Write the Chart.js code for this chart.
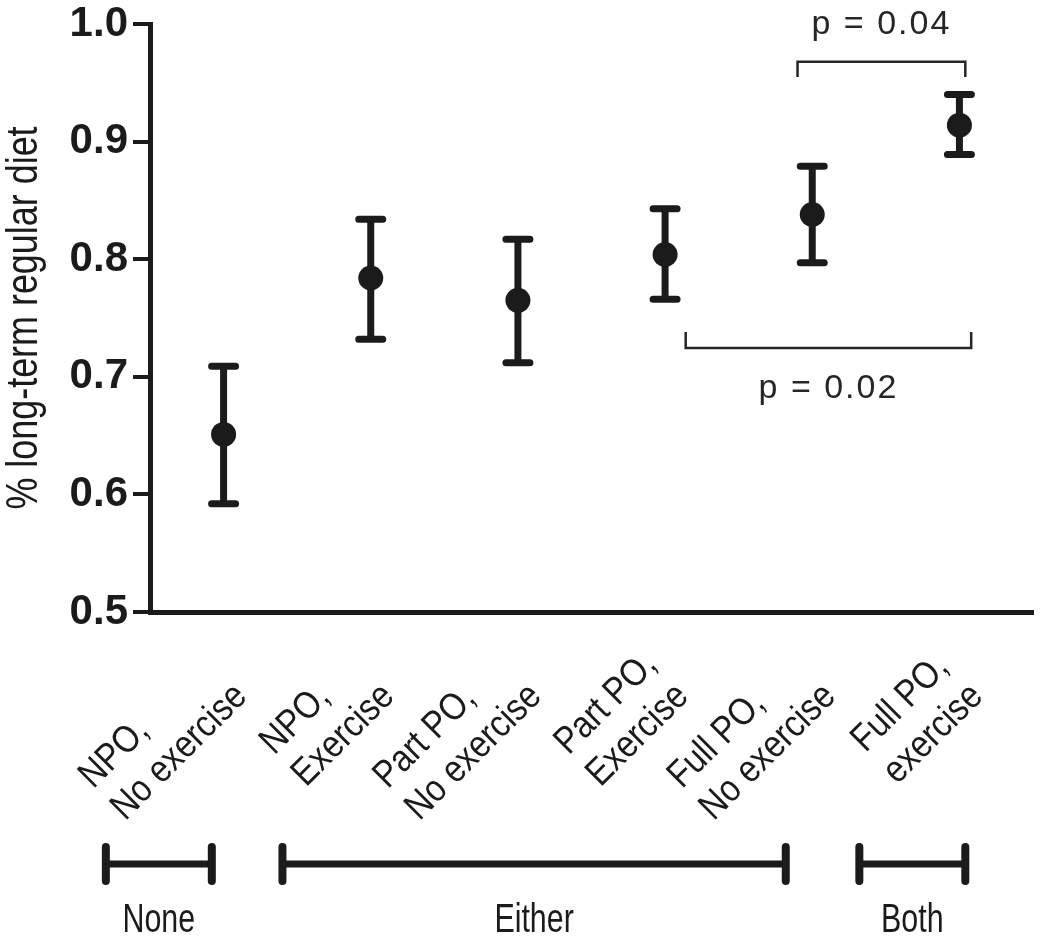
<!DOCTYPE html>
<html>
<head>
<meta charset="utf-8">
<script src="https://cdn.jsdelivr.net/npm/chart.js@4.4.1/dist/chart.umd.min.js"></script>
<style>
  html, body { margin: 0; padding: 0; background: #ffffff; }
  #wrap { width: 1050px; height: 946px; }
</style>
</head>
<body>
<div id="wrap"><canvas id="chart" width="1050" height="946"></canvas></div>
<script>
// ---- data ----
const categories = [
  ["NPO,", "No exercise"],
  ["NPO,", "Exercise"],
  ["Part PO,", "No exercise"],
  ["Part PO,", "Exercise"],
  ["Full PO,", "No exercise"],
  ["Full PO,", "exercise"]
];
const meanValues  = [0.651, 0.784, 0.765, 0.804, 0.838, 0.914];
const upperValues = [0.709, 0.834, 0.817, 0.843, 0.879, 0.940];
const lowerValues = [0.592, 0.732, 0.712, 0.766, 0.797, 0.889];
const yTicks = [0.5, 0.6, 0.7, 0.8, 0.9, 1.0];
const yTitle = "% long-term regular diet";

// group brackets below the axis (in category-index units)
const groupNames = ["None", "Either", "Both"];
const groupStart = [-0.80, 0.40, 4.32];
const groupEnd   = [-0.08, 3.82, 5.04];

// significance brackets (category-index units, y in data units)
const pLabels  = ["p = 0.04", "p = 0.02"];
const pFrom    = [3.90, 3.14];
const pTo      = [5.04, 5.08];
const pLevel   = [0.968, 0.7245];
const pTickEnd = [0.955, 0.738];

const INK = "#1b1b1b";
const FONT = "'Liberation Sans', Arial, Helvetica, sans-serif";

function narrowText(ctx, text, x, y, font, sx, align, rot) {
  ctx.save();
  ctx.translate(x, y);
  if (rot) ctx.rotate(rot);
  ctx.scale(sx, 1);
  ctx.font = font;
  ctx.textAlign = align;
  ctx.textBaseline = "alphabetic";
  ctx.fillStyle = INK;
  ctx.fillText(text, 0, 0);
  ctx.restore();
}

const decorPlugin = {
  id: "decor",
  beforeDatasetsDraw(chart) {
    const ctx = chart.ctx;
    const xs = chart.scales.x, ys = chart.scales.y;
    ctx.save();
    ctx.strokeStyle = INK;
    // error bars
    for (let i = 0; i < meanValues.length; i++) {
      const x = xs.getPixelForValue(i);
      const yT = ys.getPixelForValue(upperValues[i]);
      const yB = ys.getPixelForValue(lowerValues[i]);
      ctx.lineWidth = 7;
      ctx.lineCap = "butt";
      ctx.beginPath(); ctx.moveTo(x, yT); ctx.lineTo(x, yB); ctx.stroke();
      ctx.lineCap = "round";
      ctx.beginPath();
      ctx.moveTo(x - 12, yT); ctx.lineTo(x + 12, yT);
      ctx.moveTo(x - 12, yB); ctx.lineTo(x + 12, yB);
      ctx.stroke();
    }
    ctx.restore();
  },
  afterDraw(chart) {
    const ctx = chart.ctx;
    const xs = chart.scales.x, ys = chart.scales.y;
    const area = chart.chartArea;
    ctx.save();
    // significance brackets
    ctx.strokeStyle = "#262626";
    ctx.lineWidth = 2.5;
    ctx.lineCap = "butt";
    for (let k = 0; k < pLabels.length; k++) {
      const x1 = xs.getPixelForValue(pFrom[k]);
      const x2 = xs.getPixelForValue(pTo[k]);
      const y = ys.getPixelForValue(pLevel[k]);
      const yt = ys.getPixelForValue(pTickEnd[k]);
      ctx.beginPath();
      ctx.moveTo(x1, yt); ctx.lineTo(x1, y); ctx.lineTo(x2, y); ctx.lineTo(x2, yt);
      ctx.stroke();
      const above = yt > y;
      const ty = above ? y - 28 : y + 50;
      ctx.save();
      ctx.font = "34px " + FONT;
      ctx.letterSpacing = "2px";
      ctx.textAlign = "center";
      ctx.fillStyle = "#262626";
      ctx.fillText(pLabels[k], (x1 + x2) / 2, ty);
      ctx.restore();
    }
    // y axis title
    narrowText(ctx, yTitle, 37, (area.top + area.bottom) / 2, "44px " + FONT, 0.816, "center", -Math.PI / 2);
    // rotated category labels
    for (let i = 0; i < categories.length; i++) {
      const x = xs.getPixelForValue(i);
      const ax = x + 25, ay = area.bottom + 86;
      ctx.save();
      ctx.translate(ax, ay);
      ctx.rotate(-Math.PI / 4);
      ctx.scale(0.87, 1);
      ctx.font = "38px " + FONT;
      ctx.fillStyle = INK;
      ctx.textAlign = "left";
      const lines = categories[i];
      const maxW = Math.max(...lines.map(t => ctx.measureText(t).width));
      const lh = 45;
      for (let j = 0; j < lines.length; j++) {
        ctx.fillText(lines[j], -maxW, -(lines.length - 1 - j) * lh);
      }
      ctx.restore();
    }
    // group brackets
    const gy = area.bottom + 252;
    ctx.strokeStyle = INK;
    for (let g = 0; g < groupNames.length; g++) {
      const x1 = xs.getPixelForValue(groupStart[g]);
      const x2 = xs.getPixelForValue(groupEnd[g]);
      ctx.lineCap = "butt";
      ctx.lineWidth = 7;
      ctx.beginPath(); ctx.moveTo(x1, gy); ctx.lineTo(x2, gy); ctx.stroke();
      ctx.lineCap = "round";
      ctx.lineWidth = 8;
      ctx.beginPath();
      ctx.moveTo(x1, gy - 17); ctx.lineTo(x1, gy + 17);
      ctx.moveTo(x2, gy - 17); ctx.lineTo(x2, gy + 17);
      ctx.stroke();
      narrowText(ctx, groupNames[g], (x1 + x2) / 2, gy + 68, "40px " + FONT, 0.76, "center", 0);
    }
    ctx.restore();
  }
};

new Chart(document.getElementById("chart"), {
  type: "scatter",
  data: {
    datasets: [{
      data: meanValues.map((v, i) => ({ x: i, y: v })),
      pointRadius: 12.5,
      pointHoverRadius: 12.5,
      backgroundColor: INK,
      borderWidth: 0
    }]
  },
  options: {
    responsive: false,
    devicePixelRatio: 1,
    animation: false,
    events: [],
    layout: { padding: { left: 0, right: 17, top: 24, bottom: 0 } },
    plugins: { legend: { display: false }, tooltip: { enabled: false } },
    scales: {
      x: {
        type: "linear",
        min: -0.5,
        max: categories.length - 0.5,
        ticks: { display: false },
        grid: { display: false },
        border: { display: true, width: 5, color: INK },
        afterFit(scale) { scale.height = 334; scale.paddingLeft = 0; scale.paddingRight = 0; }
      },
      y: {
        type: "linear",
        min: 0.5,
        max: 1.0,
        afterBuildTicks(scale) { scale.ticks = yTicks.map(v => ({ value: v })); },
        ticks: {
          callback: v => Number(v).toFixed(1),
          font: { family: FONT, size: 42, weight: "bold" },
          color: INK,
          padding: 5
        },
        grid: {
          display: true,
          drawOnChartArea: false,
          drawTicks: true,
          tickLength: 17,
          tickWidth: 4,
          tickColor: INK,
          lineWidth: 0
        },
        border: { display: true, width: 5, color: INK },
        afterFit(scale) { scale.width = 150; scale.paddingTop = 0; scale.paddingBottom = 0; }
      }
    }
  },
  plugins: [decorPlugin]
});
</script>
</body>
</html>
